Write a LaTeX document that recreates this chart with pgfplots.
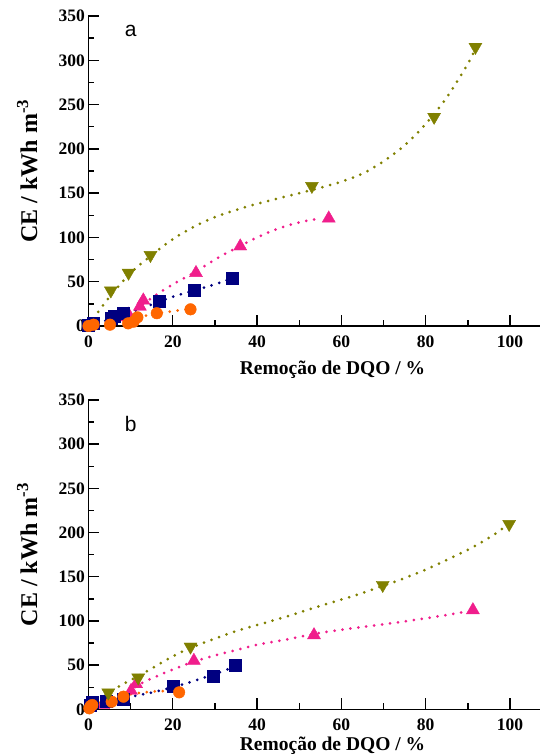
\documentclass[border=0pt]{standalone}
\usepackage{fontspec}
\setmainfont{Liberation Serif}
\newfontfamily\sansf{Liberation Sans}
\usepackage{pgfplots}
\pgfplotsset{compat=1.18}
\definecolor{cOl}{RGB}{128,128,0}
\definecolor{cPk}{RGB}{240,30,140}
\definecolor{cNv}{RGB}{0,0,128}
\definecolor{cOr}{RGB}{255,102,0}
\pgfplotsset{
  myax/.style={
    scale only axis, width=451pt,
    xmin=0, xmax=107, ymin=0, ymax=350,
    axis x line=bottom, axis y line=left,
    axis line style={-, line width=1.6pt},
    xtick={0,20,40,60,80,100}, ytick={0,50,100,150,200,250,300,350},
    minor x tick num=1, minor y tick num=1,
    tick align=inside,
    major tick length=11pt, minor tick length=6pt,
    every tick/.style={line width=1.4pt, black},
    /pgf/number format/assume math mode=true,
    ticklabel style={font=\fontsize{17.5}{18}\selectfont\bfseries},
    xticklabel style={yshift=-6pt},
    xlabel={Remoção de DQO / \%},
    ylabel={CE / kWh m\textsuperscript{-3}},
    xlabel style={font=\fontsize{19.5}{20}\selectfont\bfseries, at={(axis description cs:0.541,0)}, anchor=north, yshift=-24pt},
    ylabel style={font=\fontsize{24}{24}\selectfont\bfseries, at={(axis description cs:-0.136,0.5)}, anchor=center},
    clip=false,
  },
  fitl/.style={line width=3pt, dash pattern=on 0pt off 8pt, line cap=round, no marks, smooth},
  mOl/.style={only marks, mark=triangle*, mark options={rotate=180, fill=cOl, draw=cOl}, mark size=7.5pt, color=cOl},
  mPk/.style={only marks, mark=triangle*, mark options={fill=cPk, draw=cPk}, mark size=7.5pt, color=cPk},
  mNv/.style={only marks, mark=square*, mark options={fill=cNv, draw=cNv}, mark size=6pt, color=cNv},
  mOr/.style={only marks, mark=*, mark options={fill=cOr, draw=cOr}, mark size=5.8pt, color=cOr},
}
\begin{document}
\begin{tikzpicture}
\path[use as bounding box] (0,0) rectangle (542pt,755pt);
% ---------------- panel a ----------------
\begin{axis}[myax, height=310pt, at={(88.5pt,429pt)}, anchor=south west,
  xlabel style={yshift=-7pt}]
\addplot[cOl, fitl] coordinates {(2.3,16) (5,33) (10,60) (15,80) (20,98) (25,112) (30,123) (35,131) (40,138) (45,144) (50,150) (55,156) (60,163) (65,172) (70,186) (75,204) (80,228) (85,258) (90,296) (92,315)};
\addplot[cPk, fitl] coordinates {(8,12) (12,22) (16,35) (20,47) (25,60) (30,75) (35,88) (40,100) (45,110) (50,117) (55,121.5)};
\addplot[cNv, fitl] coordinates {(4,6) (8,12) (12,19) (16,26) (20,33) (25,40) (30,47) (33,52)};
\addplot[cOr, fitl] coordinates {(10,7) (13,11) (16,14) (19,16) (22,18) (24,19)};
\addplot[mPk] coordinates {(0,0) (7.5,10) (9.5,13) (12.2,22) (13,29) (25.5,60) (36,90) (57,121.5)};
\addplot[mNv] coordinates {(0,1) (1.1,3) (5.3,8.7) (6,10.5) (8.3,14) (16.7,27.5) (25.1,40.6) (34.2,53.8)};
\addplot[mOr] coordinates {(0,0) (1.2,1.5) (5.1,1.5) (9.4,3) (10.7,4.9) (11.6,9.8) (16.2,14.4) (24.2,18.8)};
\addplot[mOl] coordinates {(5.3,40) (9.5,60) (14.7,80) (53,158) (82,236) (91.8,315)};
\node[font=\sansf\fontsize{21}{21}\selectfont, anchor=center] at (axis cs:10,333) {a};
\end{axis}
% ---------------- panel b ----------------
\begin{axis}[myax, height=309.3pt, at={(88.5pt,45.7pt)}, anchor=south west]
\addplot[cOl, fitl] coordinates {(4,16) (8,28) (12,38) (16,49) (20,60) (24,69) (30,80) (36,90) (42,98) (47,105) (55,117) (63,128.5) (67,135) (73,145) (79,156) (85,169) (91,183) (96,197) (99.5,209)};
\addplot[cPk, fitl] coordinates {(8,15) (12,28) (16,37) (20,45) (25,54) (30,61) (35,67) (40,73) (47,79) (55,86.5) (64,92.5) (72,97.5) (80,103) (86,107.5) (90,111)};
\addplot[cNv, fitl] coordinates {(0,3) (4,8) (8,12) (12,16) (16,20) (20,25) (25,32) (30,40) (34,47)};
\addplot[cOr, fitl] coordinates {(1,4) (3,8) (6,12) (9,16) (12,18.5) (15,20) (18,20.5) (21,20.3)};
\addplot[mPk] coordinates {(3.5,4.9) (10.1,21) (11.3,28.6) (25,55) (53.5,84) (91.2,112.3)};
\addplot[mNv] coordinates {(0.4,4.9) (0.8,7.5) (4.3,9.7) (8.3,11.7) (20,25.6) (29.5,37.7) (34.8,50.1)};
\addplot[mOr] coordinates {(0.2,1.1) (0.5,3.7) (0.9,4.9) (5.5,8.6) (8.3,14.3) (21.5,19.2)};
\addplot[mOl] coordinates {(4.7,18.8) (11.8,35.8) (24.2,70.8) (69.8,140.6) (99.8,209.6)};
\node[font=\sansf\fontsize{21}{21}\selectfont, anchor=center] at (axis cs:10,323) {b};
\end{axis}
\end{tikzpicture}
\end{document}
